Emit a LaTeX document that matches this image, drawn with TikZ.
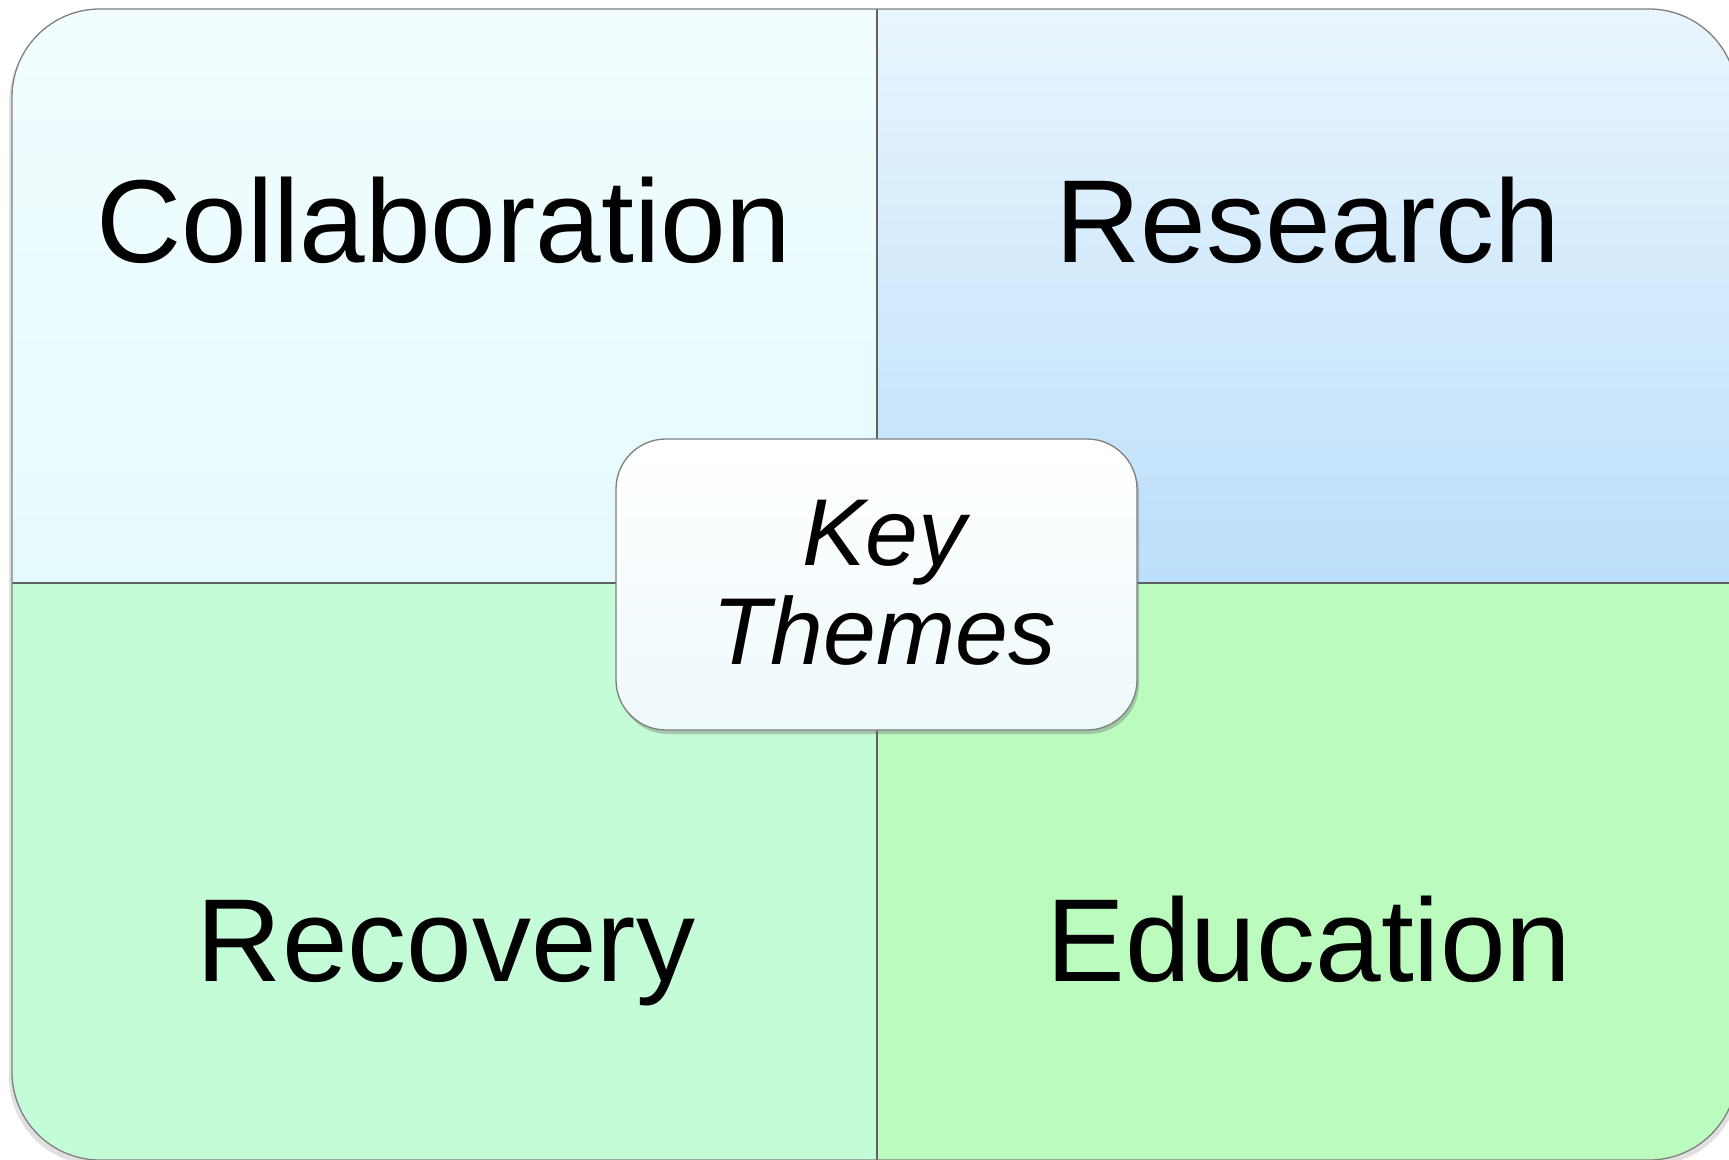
\documentclass[tikz,border=0pt]{standalone}
\usepackage{fontspec}
\setmainfont{Liberation Sans}
\usetikzlibrary{shadows}
\definecolor{tlTop}{HTML}{F2FDFF}
\definecolor{tlBot}{HTML}{E5FAFD}
\definecolor{trTop}{HTML}{E9F5FD}
\definecolor{trBot}{HTML}{BCDFFB}
\definecolor{blFill}{HTML}{C5FCD8}
\definecolor{brFill}{HTML}{BBFCBE}
\definecolor{edgeGrey}{HTML}{7F7F7F}
\definecolor{lineGrey}{HTML}{606060}
\definecolor{keyBot}{HTML}{EEF9FC}
\tikzset{
  quadtext/.style={anchor=base, inner sep=0pt, text=black, font=\fontsize{118}{130}\selectfont},
  keytext/.style={anchor=base, inner sep=0pt, text=black, font=\fontsize{95}{104}\selectfont\itshape},
  keybox/.style={draw=edgeGrey, line width=1.3pt, rounded corners=50pt, top color=white, bottom color=keyBot,
    minimum width=521pt, minimum height=291pt, inner sep=0pt,
    drop shadow={shadow xshift=2pt, shadow yshift=-4pt, opacity=0.35, fill=black!60}},
  divider/.style={draw=lineGrey, line width=2pt},
}
\begin{document}
\begin{tikzpicture}[x=1pt,y=-1pt]
\useasboundingbox (0,0) rectangle (1729,1159);
% outer shadow
\fill[black, opacity=0.12, rounded corners=88pt] (9,14) rectangle (1740,1165);
\begin{scope}
  \clip[rounded corners=88pt] (12,9) rectangle (1737,1160);
  \shade[top color=tlTop, bottom color=tlBot] (12,9) rectangle (877,583);
  \shade[top color=trTop, bottom color=trBot] (877,9) rectangle (1737,583);
  \fill[blFill] (12,583) rectangle (877,1160);
  \fill[brFill] (877,583) rectangle (1737,1160);
\end{scope}
\coordinate (vtop) at (877,9);
\coordinate (vbot) at (877,1160);
\coordinate (hleft) at (12,583);
\coordinate (hright) at (1737,583);
\draw[divider] (vtop) -- (vbot);
\draw[divider] (hleft) -- (hright);
\draw[edgeGrey, line width=1.3pt, rounded corners=88pt] (12,9) rectangle (1737,1160);
\node[quadtext] (collab) at (444,262) {Collaboration};
\node[quadtext] (research) at (1308,262) {Research};
\node[quadtext] (recovery) at (446,981) {Recovery};
\node[quadtext] (education) at (1309,981) {Education};
\node[keybox] (key) at (876.5,584.5) {};
\node[keytext] (k1) at (884,565) {Key};
\node[keytext] (k2) at (884,664) {Themes};
\end{tikzpicture}
\end{document}
